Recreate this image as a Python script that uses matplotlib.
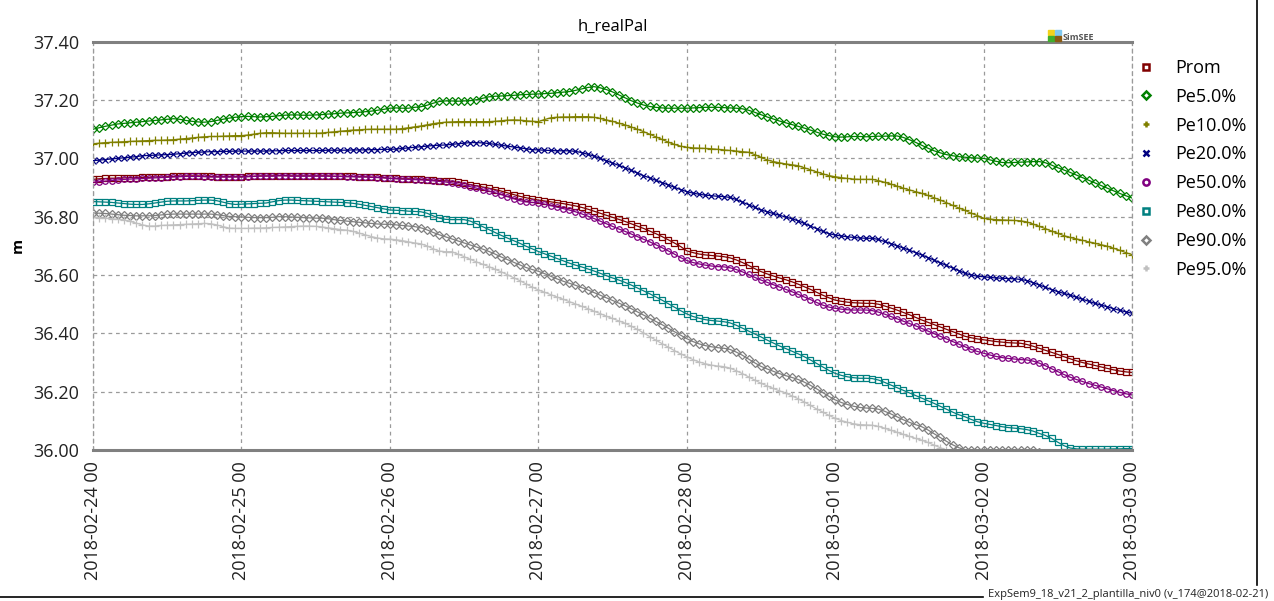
import pandas as pd
import matplotlib
matplotlib.use("Agg")
import matplotlib.pyplot as plt
import matplotlib.dates as mdates
from matplotlib.lines import Line2D
from matplotlib.patches import Rectangle

plt.rcParams['font.family'] = ['Open Sans', 'DejaVu Sans']

# hourly levels of h_realPal (m), 2018-02-24 00 .. 2018-03-03 00
start = "2018-02-24 00:00"

prom = [
    36.928, 36.930, 36.931, 36.932, 36.932, 36.933, 36.934, 36.934, 36.935, 36.935, 36.936, 36.936,
    36.937, 36.938, 36.939, 36.940, 36.940, 36.940, 36.939, 36.938, 36.937, 36.937, 36.937, 36.937,
    36.937, 36.938, 36.939, 36.940, 36.940, 36.940, 36.941, 36.941, 36.940, 36.940, 36.940, 36.940,
    36.940, 36.940, 36.940, 36.939, 36.939, 36.938, 36.938, 36.937, 36.937, 36.936, 36.935, 36.934,
    36.932, 36.931, 36.930, 36.930, 36.929, 36.928, 36.927, 36.925, 36.924, 36.923, 36.921, 36.918,
    36.914, 36.910, 36.906, 36.902, 36.898, 36.893, 36.888, 36.882, 36.876, 36.870, 36.865, 36.861,
    36.857, 36.854, 36.851, 36.848, 36.845, 36.841, 36.837, 36.832, 36.826, 36.819, 36.812, 36.805,
    36.798, 36.791, 36.784, 36.776, 36.768, 36.760, 36.751, 36.742, 36.732, 36.721, 36.710, 36.698,
    36.683, 36.677, 36.672, 36.669, 36.667, 36.665, 36.663, 36.659, 36.652, 36.643, 36.633, 36.622,
    36.612, 36.604, 36.597, 36.590, 36.584, 36.577, 36.569, 36.560, 36.551, 36.541, 36.531, 36.522,
    36.514, 36.510, 36.507, 36.505, 36.504, 36.503, 36.503, 36.500, 36.494, 36.487, 36.480, 36.472,
    36.464, 36.455, 36.446, 36.438, 36.430, 36.422, 36.414, 36.406, 36.398, 36.390, 36.385, 36.381,
    36.378, 36.375, 36.372, 36.370, 36.368, 36.367, 36.366, 36.362, 36.356, 36.349, 36.342, 36.335,
    36.328, 36.320, 36.313, 36.306, 36.300, 36.295, 36.290, 36.285, 36.280, 36.275, 36.271, 36.268,
    36.266,
]
pe05 = [
    37.100, 37.105, 37.110, 37.114, 37.118, 37.120, 37.122, 37.124, 37.126, 37.128, 37.130, 37.132,
    37.134, 37.136, 37.134, 37.130, 37.127, 37.125, 37.124, 37.126, 37.130, 37.134, 37.138, 37.141,
    37.143, 37.144, 37.143, 37.142, 37.143, 37.144, 37.146, 37.148, 37.149, 37.149, 37.148, 37.148,
    37.149, 37.150, 37.152, 37.153, 37.155, 37.156, 37.157, 37.158, 37.160, 37.162, 37.165, 37.168,
    37.172, 37.173, 37.172, 37.172, 37.175, 37.177, 37.182, 37.189, 37.195, 37.197, 37.197, 37.196,
    37.197, 37.198, 37.201, 37.206, 37.211, 37.213, 37.214, 37.215, 37.216, 37.218, 37.219, 37.220,
    37.221, 37.222, 37.223, 37.225, 37.227, 37.229, 37.233, 37.238, 37.243, 37.246, 37.242, 37.236,
    37.228, 37.218, 37.208, 37.198, 37.190, 37.183, 37.178, 37.175, 37.173, 37.172, 37.172, 37.172,
    37.172, 37.173, 37.174, 37.175, 37.175, 37.175, 37.174, 37.173, 37.172, 37.170, 37.165, 37.158,
    37.150, 37.142, 37.135, 37.128, 37.122, 37.116, 37.110, 37.104, 37.097, 37.090, 37.083, 37.078,
    37.074, 37.073, 37.074, 37.075, 37.075, 37.074, 37.075, 37.076, 37.076, 37.077, 37.077, 37.072,
    37.064, 37.055, 37.045, 37.035, 37.026, 37.019, 37.013, 37.009, 37.006, 37.004, 37.002, 37.001,
    37.000, 36.995, 36.990, 36.986, 36.985, 36.986, 36.987, 36.988, 36.989, 36.989, 36.985, 36.977,
    36.968, 36.960, 36.952, 36.943, 36.934, 36.925, 36.916, 36.907, 36.898, 36.889, 36.880, 36.872,
    36.864,
]
pe10 = [
    37.050, 37.052, 37.054, 37.055, 37.056, 37.057, 37.058, 37.059, 37.060, 37.061, 37.062, 37.062,
    37.063, 37.064, 37.066, 37.068, 37.070, 37.072, 37.074, 37.075, 37.075, 37.076, 37.077, 37.078,
    37.078, 37.080, 37.083, 37.086, 37.088, 37.088, 37.087, 37.086, 37.086, 37.086, 37.086, 37.086,
    37.086, 37.087, 37.089, 37.091, 37.093, 37.095, 37.097, 37.098, 37.099, 37.100, 37.100, 37.100,
    37.100, 37.100, 37.102, 37.105, 37.108, 37.111, 37.115, 37.119, 37.122, 37.124, 37.125, 37.126,
    37.126, 37.126, 37.126, 37.126, 37.126, 37.127, 37.129, 37.131, 37.132, 37.131, 37.129, 37.127,
    37.126, 37.133, 37.139, 37.141, 37.142, 37.142, 37.143, 37.143, 37.143, 37.141, 37.137, 37.132,
    37.127, 37.121, 37.115, 37.108, 37.100, 37.092, 37.083, 37.074, 37.065, 37.056, 37.048, 37.042,
    37.038, 37.036, 37.035, 37.034, 37.033, 37.031, 37.029, 37.027, 37.025, 37.023, 37.021, 37.013,
    37.004, 36.995, 36.989, 36.985, 36.981, 36.978, 36.975, 36.968, 36.961, 36.954, 36.947, 36.941,
    36.937, 36.934, 36.931, 36.929, 36.928, 36.928, 36.928, 36.924, 36.918, 36.912, 36.905, 36.898,
    36.892, 36.886, 36.880, 36.873, 36.865, 36.857, 36.848, 36.839, 36.830, 36.822, 36.812, 36.804,
    36.795, 36.792, 36.790, 36.789, 36.788, 36.787, 36.786, 36.782, 36.775, 36.767, 36.759, 36.751,
    36.743, 36.735, 36.729, 36.724, 36.719, 36.714, 36.709, 36.704, 36.699, 36.692, 36.685, 36.677,
    36.670,
]
pe20 = [
    36.992, 36.994, 36.996, 36.998, 37.000, 37.002, 37.004, 37.006, 37.009, 37.010, 37.011, 37.012,
    37.013, 37.014, 37.016, 37.018, 37.020, 37.021, 37.022, 37.023, 37.023, 37.024, 37.024, 37.025,
    37.025, 37.025, 37.025, 37.025, 37.025, 37.026, 37.026, 37.027, 37.027, 37.027, 37.027, 37.027,
    37.027, 37.027, 37.028, 37.028, 37.028, 37.028, 37.029, 37.029, 37.029, 37.030, 37.030, 37.031,
    37.031, 37.032, 37.034, 37.036, 37.038, 37.040, 37.042, 37.044, 37.045, 37.046, 37.048, 37.050,
    37.052, 37.054, 37.054, 37.053, 37.051, 37.048, 37.045, 37.042, 37.039, 37.036, 37.033, 37.030,
    37.029, 37.028, 37.027, 37.026, 37.026, 37.026, 37.024, 37.020, 37.014, 37.008, 37.000, 36.992,
    36.984, 36.976, 36.968, 36.959, 36.950, 36.941, 36.933, 36.925, 36.917, 36.909, 36.901, 36.893,
    36.886, 36.881, 36.877, 36.874, 36.872, 36.870, 36.869, 36.866, 36.859, 36.850, 36.841, 36.832,
    36.823, 36.817, 36.811, 36.805, 36.799, 36.793, 36.786, 36.777, 36.768, 36.759, 36.750, 36.742,
    36.737, 36.734, 36.731, 36.729, 36.727, 36.726, 36.726, 36.722, 36.715, 36.708, 36.700, 36.693,
    36.685, 36.677, 36.669, 36.660, 36.651, 36.642, 36.633, 36.624, 36.615, 36.606, 36.600, 36.596,
    36.594, 36.592, 36.590, 36.589, 36.588, 36.587, 36.585, 36.581, 36.574, 36.566, 36.558, 36.550,
    36.543, 36.537, 36.531, 36.524, 36.517, 36.510, 36.503, 36.497, 36.491, 36.485, 36.479, 36.474,
    36.469,
]
pe50 = [
    36.918, 36.920, 36.922, 36.924, 36.926, 36.928, 36.929, 36.930, 36.931, 36.932, 36.933, 36.934,
    36.935, 36.936, 36.937, 36.938, 36.938, 36.938, 36.937, 36.936, 36.936, 36.936, 36.936, 36.936,
    36.936, 36.937, 36.938, 36.939, 36.939, 36.939, 36.940, 36.940, 36.939, 36.939, 36.939, 36.939,
    36.939, 36.939, 36.939, 36.938, 36.938, 36.937, 36.937, 36.936, 36.936, 36.935, 36.934, 36.933,
    36.931, 36.930, 36.929, 36.928, 36.927, 36.926, 36.925, 36.923, 36.921, 36.919, 36.916, 36.912,
    36.908, 36.903, 36.898, 36.893, 36.888, 36.882, 36.876, 36.869, 36.862, 36.855, 36.851, 36.849,
    36.848, 36.843, 36.838, 36.833, 36.828, 36.823, 36.817, 36.810, 36.802, 36.794, 36.785, 36.776,
    36.767, 36.758, 36.750, 36.741, 36.732, 36.723, 36.714, 36.704, 36.694, 36.683, 36.672, 36.660,
    36.650, 36.643, 36.638, 36.634, 36.631, 36.629, 36.628, 36.625, 36.619, 36.611, 36.602, 36.592,
    36.583, 36.575, 36.567, 36.559, 36.551, 36.543, 36.534, 36.525, 36.516, 36.506, 36.497, 36.490,
    36.486, 36.483, 36.481, 36.480, 36.480, 36.480, 36.478, 36.473, 36.466, 36.458, 36.450, 36.442,
    36.434, 36.426, 36.417, 36.408, 36.399, 36.390, 36.381, 36.372, 36.363, 36.354, 36.345, 36.338,
    36.332, 36.326, 36.321, 36.317, 36.314, 36.312, 36.310, 36.309, 36.305, 36.298, 36.289, 36.279,
    36.269, 36.259, 36.250, 36.242, 36.235, 36.228, 36.222, 36.216, 36.210, 36.204, 36.198, 36.193,
    36.189,
]
pe80 = [
    36.852, 36.851, 36.850, 36.849, 36.847, 36.845, 36.843, 36.842, 36.842, 36.844, 36.847, 36.850,
    36.853, 36.854, 36.854, 36.854, 36.855, 36.856, 36.857, 36.857, 36.855, 36.850, 36.845, 36.842,
    36.843, 36.844, 36.845, 36.846, 36.847, 36.851, 36.855, 36.857, 36.857, 36.856, 36.855, 36.854,
    36.853, 36.852, 36.851, 36.850, 36.849, 36.848, 36.846, 36.843, 36.839, 36.835, 36.831, 36.827,
    36.823, 36.822, 36.821, 36.819, 36.818, 36.817, 36.812, 36.803, 36.795, 36.791, 36.790, 36.790,
    36.790, 36.785, 36.776, 36.766, 36.756, 36.746, 36.736, 36.727, 36.718, 36.709, 36.699, 36.690,
    36.681, 36.673, 36.665, 36.657, 36.649, 36.641, 36.634, 36.628, 36.621, 36.614, 36.606, 36.598,
    36.590, 36.583, 36.575, 36.566, 36.556, 36.546, 36.536, 36.525, 36.514, 36.502, 36.490, 36.478,
    36.467, 36.458, 36.452, 36.447, 36.444, 36.442, 36.440, 36.436, 36.428, 36.418, 36.408, 36.398,
    36.388, 36.377, 36.367, 36.357, 36.348, 36.339, 36.330, 36.320, 36.309, 36.297, 36.285, 36.273,
    36.263, 36.256, 36.251, 36.248, 36.246, 36.246, 36.245, 36.240, 36.232, 36.223, 36.214, 36.205,
    36.196, 36.187, 36.178, 36.169, 36.160, 36.150, 36.140, 36.130, 36.121, 36.114, 36.105, 36.097,
    36.092, 36.088, 36.084, 36.080, 36.077, 36.075, 36.073, 36.070, 36.065, 36.057, 36.050, 36.040,
    36.027, 36.015, 36.007, 36.004, 36.003, 36.003, 36.003, 36.003, 36.003, 36.004, 36.004, 36.005,
    36.005,
]
pe90 = [
    36.813, 36.812, 36.811, 36.809, 36.807, 36.805, 36.804, 36.803, 36.803, 36.803, 36.804, 36.806,
    36.808, 36.809, 36.809, 36.809, 36.809, 36.809, 36.809, 36.809, 36.807, 36.804, 36.801, 36.800,
    36.799, 36.798, 36.797, 36.797, 36.797, 36.798, 36.800, 36.800, 36.799, 36.798, 36.797, 36.796,
    36.795, 36.795, 36.793, 36.790, 36.787, 36.785, 36.783, 36.781, 36.779, 36.777, 36.775, 36.774,
    36.774, 36.772, 36.770, 36.768, 36.766, 36.762, 36.755, 36.746, 36.738, 36.731, 36.724, 36.717,
    36.710, 36.703, 36.696, 36.689, 36.681, 36.672, 36.662, 36.653, 36.644, 36.635, 36.626, 36.619,
    36.613, 36.605, 36.596, 36.587, 36.579, 36.572, 36.565, 36.557, 36.549, 36.540, 36.531, 36.522,
    36.513, 36.504, 36.495, 36.485, 36.474, 36.463, 36.452, 36.441, 36.430, 36.418, 36.406, 36.394,
    36.382, 36.372, 36.364, 36.358, 36.354, 36.351, 36.349, 36.345, 36.336, 36.325, 36.312, 36.299,
    36.287, 36.278, 36.270, 36.262, 36.255, 36.249, 36.242, 36.233, 36.222, 36.210, 36.197, 36.184,
    36.172, 36.163, 36.156, 36.150, 36.146, 36.144, 36.143, 36.140, 36.133, 36.124, 36.114, 36.104,
    36.095, 36.087, 36.080, 36.069, 36.056, 36.043, 36.030, 36.018, 36.008, 36.001, 36.000, 36.000,
    36.000, 36.000, 36.000, 36.000, 36.000, 36.000, 36.000, 36.000, 36.000, 35.992, 35.980, 35.965,
    35.950, 35.936, 35.922, 35.910, 35.898, 35.887, 35.877, 35.868, 35.860, 35.852, 35.845, 35.838,
    35.832,
]
pe95 = [
    36.798, 36.797, 36.795, 36.793, 36.791, 36.789, 36.784, 36.778, 36.772, 36.768, 36.768, 36.770,
    36.771, 36.772, 36.773, 36.774, 36.775, 36.776, 36.777, 36.776, 36.772, 36.766, 36.761, 36.760,
    36.760, 36.760, 36.761, 36.761, 36.762, 36.763, 36.764, 36.765, 36.766, 36.767, 36.768, 36.768,
    36.767, 36.765, 36.762, 36.759, 36.756, 36.754, 36.750, 36.744, 36.738, 36.732, 36.727, 36.724,
    36.723, 36.721, 36.718, 36.714, 36.710, 36.707, 36.700, 36.690, 36.682, 36.680, 36.680, 36.672,
    36.663, 36.654, 36.645, 36.637, 36.629, 36.620, 36.611, 36.601, 36.591, 36.581, 36.570, 36.559,
    36.549, 36.541, 36.533, 36.525, 36.517, 36.509, 36.501, 36.493, 36.485, 36.476, 36.468, 36.459,
    36.451, 36.443, 36.435, 36.425, 36.414, 36.402, 36.389, 36.377, 36.365, 36.353, 36.341, 36.330,
    36.320, 36.310, 36.302, 36.296, 36.291, 36.288, 36.286, 36.281, 36.272, 36.262, 36.251, 36.240,
    36.229, 36.220, 36.211, 36.203, 36.195, 36.186, 36.176, 36.165, 36.153, 36.141, 36.130, 36.119,
    36.109, 36.101, 36.095, 36.090, 36.087, 36.086, 36.085, 36.081, 36.075, 36.068, 36.061, 36.054,
    36.047, 36.040, 36.034, 36.026, 36.017, 36.008, 36.000, 35.991, 35.982, 35.972, 35.962, 35.952,
    35.943, 35.934, 35.926, 35.918, 35.911, 35.904, 35.897, 35.890, 35.883, 35.876, 35.869, 35.862,
    35.855, 35.848, 35.841, 35.835, 35.829, 35.823, 35.817, 35.811, 35.805, 35.799, 35.793, 35.787,
    35.781,
]

series = [prom, pe05, pe10, pe20, pe50, pe80, pe90, pe95]
labels = ["Prom", "Pe5.0%", "Pe10.0%", "Pe20.0%", "Pe50.0%", "Pe80.0%", "Pe90.0%", "Pe95.0%"]

# TChart style colours / pointers
colors = ["#800000", "#008000", "#808000", "#000080", "#800080", "#008080", "#808080", "#c0c0c0"]
markers = ["s", "D", "+", "x", "o", "s", "D", "+"]
msizes = [5.0, 4.0, 6.0, 4.5, 4.0, 5.0, 4.0, 6.0]

times = pd.date_range(start, periods=len(prom), freq="h")

fig = plt.figure(figsize=(12.74, 6.01), dpi=100)
ax = fig.add_axes([0.073, 0.2512, 0.8155, 0.6794])

for vals, lab, c, m, s in zip(series, labels, colors, markers, msizes):
    ax.plot(times, vals, color=c, lw=0.9, marker=m, ms=s, mfc="none",
            mec=c, mew=0.9, label=lab)

ax.set_xlim(times[0], times[-1])
ax.set_ylim(36.0, 37.4)
ax.set_yticks([36.0, 36.2, 36.4, 36.6, 36.8, 37.0, 37.2, 37.4])
ax.yaxis.set_major_formatter(plt.FormatStrFormatter("%.2f"))
ax.xaxis.set_major_locator(mdates.DayLocator())
ax.xaxis.set_major_formatter(mdates.DateFormatter("%Y-%m-%d %H"))
ax.tick_params(axis="both", length=0, labelsize=13, colors="#222222")
ax.tick_params(axis="y", pad=10)
ax.tick_params(axis="x", pad=8, labelrotation=90)

ax.grid(True, color="#9a9a9a", linestyle=(0, (3, 3)), lw=0.9)
for side in ["top", "bottom"]:
    ax.spines[side].set_color("#808080")
    ax.spines[side].set_linewidth(2.2)
for side in ["left", "right"]:
    ax.spines[side].set_color("#9a9a9a")
    ax.spines[side].set_linestyle((0, (3, 3)))
    ax.spines[side].set_linewidth(0.9)

ax.set_title("h_realPal", fontsize=12, pad=8)
ax.set_ylabel("m", fontsize=11, fontweight="bold", labelpad=6)

handles = [Line2D([], [], color=c, marker=m, ls="none", ms=4.5, mfc="none", mew=1.8)
           for c, m in zip(colors, markers)]
fig.legend(handles, labels, loc="upper left", bbox_to_anchor=(0.894, 0.902),
           frameon=False, fontsize=13, borderpad=0, borderaxespad=0,
           handlelength=0.8, handletextpad=1.2, labelspacing=0.6)

# SimSEE logo above the top-right corner of the plot
logo = [("#f2d21b", 1048, 30), ("#7fc8f0", 1055, 30), ("#3fae2a", 1048, 36), ("#8a5a12", 1055, 36)]
for col, px, py in logo:
    fig.patches.append(Rectangle((px / 1274, 1 - (py + 5) / 601), 6 / 1274, 5 / 601,
                                 transform=fig.transFigure, color=col))
fig.text(1063 / 1274, 1 - 38 / 601, "SimSEE", fontsize=6.5, fontweight="bold",
         color="#555555", va="center", ha="left")

# frame lines and footer
fig.add_artist(Line2D([1257 / 1274, 1257 / 1274], [1.0, 1 - 585 / 601],
                      transform=fig.transFigure, color="black", lw=1.2))
fig.add_artist(Line2D([0, 983 / 1274], [1 - 597 / 601, 1 - 597 / 601],
                      transform=fig.transFigure, color="black", lw=1.2))
fig.text(1268 / 1274, 1 - 597 / 601, "ExpSem9_18_v21_2_plantilla_niv0 (v_174@2018-02-21)",
         fontsize=8, ha="right", va="baseline", color="#222222")

fig.savefig("out.png", dpi=100)
